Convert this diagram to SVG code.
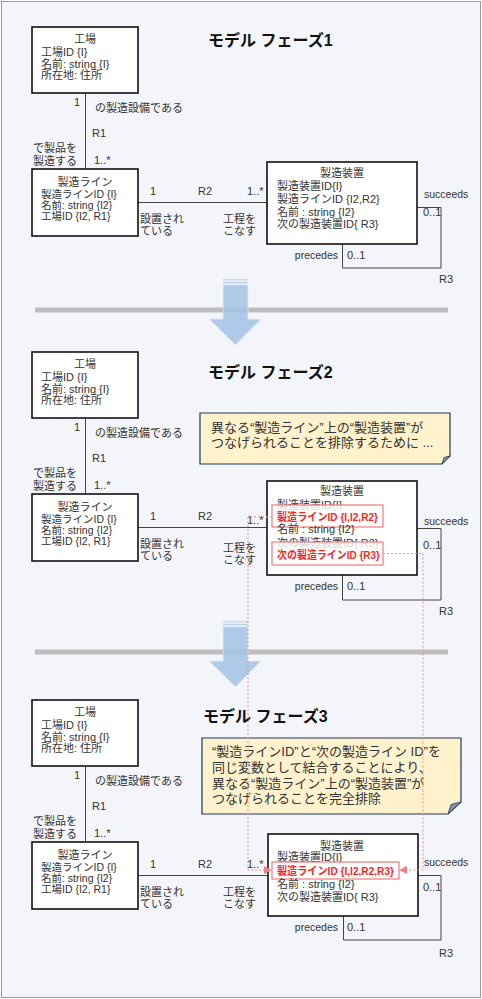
<svg xmlns="http://www.w3.org/2000/svg" width="482" height="999" viewBox="0 0 482 999">
<defs>
<style>
.bg{fill:#f4f5fa;stroke:#9a9a9a;stroke-width:1}
.box{fill:#ffffff;stroke:#111111;stroke-width:1.6}
.t{font-family:"Liberation Sans","Noto Sans CJK JP",sans-serif;font-size:11px;fill:#333333}
.s{font-size:10.5px}
.c{text-anchor:middle}
.e{text-anchor:end}
.l{font-size:10.5px}
.h{font-size:16px;font-weight:bold;fill:#111111}
.n{font-size:13px}
.r{font-weight:bold;fill:#ff1f1f}
.ln{fill:none;stroke:#444444;stroke-width:1}
.rb{fill:#ffffff;fill-opacity:0.8;stroke:#f07878;stroke-width:1.2}
.ds{fill:none;stroke:#f28c8c;stroke-width:1;stroke-dasharray:2 2}
.note{fill:#fff2cc;stroke:#22375e;stroke-width:1.2}
.fold{fill:#8593aa;stroke:#22375e;stroke-width:0.8}
.sep{fill:#bdbdbd}
.arw{fill:#a3c3e6;opacity:0.85;stroke:#e4ecf6;stroke-width:0.8}
</style>
<marker id="ah" viewBox="0 0 8 8" refX="7" refY="4" markerWidth="8" markerHeight="8" markerUnits="userSpaceOnUse" orient="auto">
<path d="M0,0 L8,4 L0,8 Z" fill="#f08080"/>
</marker>
</defs>
<rect class="bg" x="1.5" y="1.5" width="479" height="996"/>

<!-- separators and arrows -->
<rect class="sep" x="35" y="307.5" width="413" height="5"/>
<rect class="sep" x="35" y="649.5" width="413" height="5"/>
<g class="arw">
<rect x="223" y="279" width="25" height="1.5"/>
<rect x="223" y="281.8" width="25" height="1.6"/>
<path d="M223,284.8 H248 V319 H261 L235.5,345 L209,319 H223 Z"/>
</g>
<g class="arw">
<rect x="223" y="621" width="25" height="1.5"/>
<rect x="223" y="623.8" width="25" height="1.6"/>
<path d="M223,626.8 H248 V661 H261 L235.5,687 L209,661 H223 Z"/>
</g>

<!-- titles -->
<text class="t h" x="208" y="46">モデル フェーズ1</text>
<text class="t h" x="208" y="378">モデル フェーズ2</text>
<text class="t h" x="203" y="722">モデル フェーズ3</text>

<!-- connectors -->
<g id="connectors">
<path class="ln" d="M85.5,93 V169"/>
<path class="ln" d="M138,202.5 H267"/>
<path class="ln" d="M417,207.5 H441 V268 H342.5 V244"/>
<path class="ln" d="M85.5,418 V494"/>
<path class="ln" d="M138,527.5 H267"/>
<path class="ln" d="M417,528.5 H441 V600 H342.5 V575"/>
<path class="ln" d="M85.5,766 V842"/>
<path class="ln" d="M138,875.5 H268"/>
<path class="ln" d="M418,875.5 H441 V940 H343.5 V916"/>
<g class="t">
<text x="74" y="106">1</text>
<text x="95" y="112">の製造設備である</text>
<text x="92" y="137">R1</text>
<text x="33" y="152">で製品を</text>
<text x="33" y="165">製造する</text>
<text x="94" y="164">1..*</text>
<text x="150" y="195">1</text>
<text x="198" y="195">R2</text>
<text x="247" y="195">1..*</text>
<text x="140" y="223">設置され</text>
<text x="140" y="235">ている</text>
<text x="223" y="223">工程を</text>
<text x="223" y="235">こなす</text>
<text class="l" x="424" y="198">succeeds</text>
<text x="423" y="216">0..1</text>
<text class="l e" x="338" y="259">precedes</text>
<text x="347" y="259">0..1</text>
<text x="439" y="283">R3</text>

<text x="74" y="431">1</text>
<text x="95" y="437">の製造設備である</text>
<text x="92" y="462">R1</text>
<text x="33" y="477">で製品を</text>
<text x="33" y="490">製造する</text>
<text x="94" y="489">1..*</text>
<text x="150" y="520">1</text>
<text x="198" y="520">R2</text>
<text x="247" y="524">1..*</text>
<text x="140" y="548">設置され</text>
<text x="140" y="560">ている</text>
<text x="223" y="552">工程を</text>
<text x="223" y="564">こなす</text>
<text class="l" x="424" y="525">succeeds</text>
<text x="423" y="549">0..1</text>
<text class="l e" x="338" y="590">precedes</text>
<text x="347" y="590">0..1</text>
<text x="439" y="615">R3</text>

<text x="74" y="779">1</text>
<text x="95" y="785">の製造設備である</text>
<text x="92" y="810">R1</text>
<text x="33" y="825">で製品を</text>
<text x="33" y="838">製造する</text>
<text x="94" y="837">1..*</text>
<text x="150" y="868">1</text>
<text x="198" y="868">R2</text>
<text x="247" y="868">1..*</text>
<text x="140" y="896">設置され</text>
<text x="140" y="908">ている</text>
<text x="223" y="896">工程を</text>
<text x="223" y="908">こなす</text>
<text class="l" x="424" y="866">succeeds</text>
<text x="423" y="891">0..1</text>
<text class="l e" x="338" y="931">precedes</text>
<text x="347" y="931">0..1</text>
<text x="439" y="957">R3</text>
</g>
</g>

<!-- phase 1 nodes -->
<g id="factory1">
<rect class="box" x="32" y="27" width="106" height="66"/>
<text class="t c" x="85" y="43">工場</text>
<text class="t" x="41" y="56">工場ID {I}</text>
<text class="t" x="41" y="67.5">名前: string {I}</text>
<text class="t" x="41" y="79">所在地: 住所</text>
</g>
<g id="line1">
<rect class="box" x="32" y="169" width="106" height="67"/>
<text class="t c" x="85" y="186">製造ライン</text>
<text class="t s" x="41" y="197.5">製造ラインID {I}</text>
<text class="t s" x="41" y="208.5">名前: string {I2}</text>
<text class="t s" x="41" y="219.5">工場ID {I2, R1}</text>
</g>
<g id="equip1">
<rect class="box" x="267" y="162" width="150" height="82"/>
<text class="t c" x="342" y="177">製造装置</text>
<text class="t" x="277" y="190">製造装置ID{I}</text>
<text class="t" x="277" y="203">製造ラインID {I2,R2}</text>
<text class="t" x="277" y="215.5">名前 : string {I2}</text>
<text class="t" x="277" y="228">次の製造装置ID{ R3}</text>
</g>

<!-- phase 2 nodes -->
<g id="factory2">
<rect class="box" x="32" y="352" width="106" height="66"/>
<text class="t c" x="85" y="368">工場</text>
<text class="t" x="41" y="381">工場ID {I}</text>
<text class="t" x="41" y="392.5">名前: string {I}</text>
<text class="t" x="41" y="404">所在地: 住所</text>
</g>
<g id="line2">
<rect class="box" x="32" y="494" width="106" height="67"/>
<text class="t c" x="85" y="511">製造ライン</text>
<text class="t s" x="41" y="522.5">製造ラインID {I}</text>
<text class="t s" x="41" y="533.5">名前: string {I2}</text>
<text class="t s" x="41" y="544.5">工場ID {I2, R1}</text>
</g>
<g id="equip2">
<rect class="box" x="267" y="481" width="150" height="94"/>
<text class="t c" x="342" y="495">製造装置</text>
<text class="t" x="277" y="509">製造装置ID{I}</text>
<rect class="rb" x="272" y="505" width="111" height="22"/>
<text class="t r" x="277" y="521" textLength="101" lengthAdjust="spacingAndGlyphs">製造ラインID {I,I2,R2}</text>
<text class="t" x="277" y="533">名前 : string {I2}</text>
<text class="t" x="277" y="547">次の製造装置ID{ R3}</text>
<rect class="rb" x="272" y="542" width="111" height="23"/>
<text class="t r" x="277" y="559" textLength="103" lengthAdjust="spacingAndGlyphs">次の製造ラインID {R3}</text>
</g>
<g id="note2">
<path class="note" d="M200,413 H450 V456 L442,464 H200 Z"/>
<path class="fold" d="M442,464 L444,457.5 L450,456 Z"/>
<text class="t n" x="211" y="432">異なる“製造ライン”上の“製造装置”が</text>
<text class="t n" x="211" y="447">つなげられることを排除するために ...</text>
</g>

<!-- phase 3 nodes -->
<g id="factory3">
<rect class="box" x="32" y="700" width="106" height="66"/>
<text class="t c" x="85" y="716">工場</text>
<text class="t" x="41" y="729">工場ID {I}</text>
<text class="t" x="41" y="740.5">名前: string {I}</text>
<text class="t" x="41" y="752">所在地: 住所</text>
</g>
<g id="line3">
<rect class="box" x="32" y="842" width="106" height="67"/>
<text class="t c" x="85" y="859">製造ライン</text>
<text class="t s" x="41" y="870.5">製造ラインID {I}</text>
<text class="t s" x="41" y="881.5">名前: string {I2}</text>
<text class="t s" x="41" y="892.5">工場ID {I2, R1}</text>
</g>
<g id="equip3">
<rect class="box" x="268" y="834" width="150" height="82"/>
<text class="t c" x="342" y="850">製造装置</text>
<text class="t" x="277" y="861">製造装置ID{I}</text>
<rect class="rb" x="272" y="862" width="127" height="17"/>
<text class="t r" x="277" y="875" textLength="117" lengthAdjust="spacingAndGlyphs">製造ラインID {I,I2,R2,R3}</text>
<text class="t" x="277" y="887.5">名前 : string {I2}</text>
<text class="t" x="277" y="901">次の製造装置ID{ R3}</text>
</g>
<g id="note3">
<path class="note" d="M202,738 H461 V802 L448,814 H202 Z"/>
<path class="fold" d="M448,814 L451,804.5 L461,802 Z"/>
<text class="t n" x="212" y="756">“製造ラインID”と“次の製造ライン  ID”を</text>
<text class="t n" x="212" y="772">同じ変数として結合することにより、</text>
<text class="t n" x="212" y="788">異なる“製造ライン”上の“製造装置”が</text>
<text class="t n" x="212" y="803">つなげられることを完全排除</text>
</g>

<!-- dashed trace connectors -->
<g id="trace-connectors">
<path class="ds" d="M272,517 H248 V870 H271" marker-end="url(#ah)"/>
<path class="ds" d="M383,553.5 H423 V870 H400" marker-end="url(#ah)"/>
</g>
</svg>
